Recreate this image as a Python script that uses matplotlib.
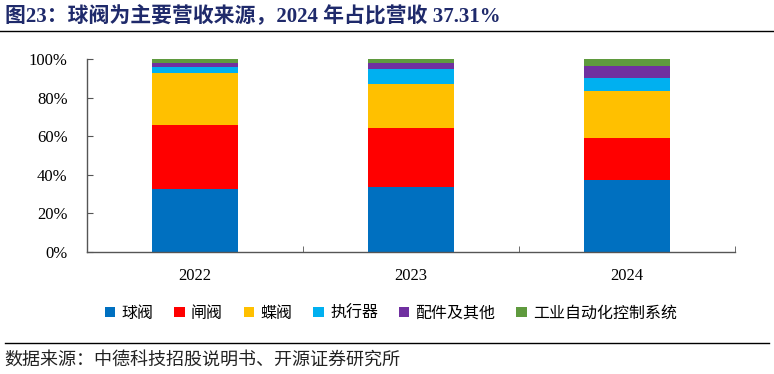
import matplotlib
matplotlib.use("Agg")
import matplotlib.pyplot as plt
import numpy as np
from matplotlib.ticker import FuncFormatter, FixedLocator

years = ["2022", "2023", "2024"]
series_names = ["球阀", "闸阀", "蝶阀", "执行器", "配件及其他", "工业自动化控制系统"]
ball_valve = [32.4, 33.6, 37.31]
gate_valve = [33.2, 30.7, 21.9]
butterfly_valve = [27.0, 22.6, 24.3]
actuator = [3.1, 7.9, 6.8]
parts_other = [2.4, 3.3, 6.2]
automation = [1.9, 1.9, 3.49]
colors = ["#0070C0", "#FF0000", "#FFC000", "#00B0F0", "#7030A0", "#5F9A3E"]

CJK = ["Noto Sans CJK SC", "DejaVu Sans"]
SERIF_CJK = ["Liberation Serif", "Noto Sans CJK SC"]
plt.rcParams["font.family"] = SERIF_CJK

fig = plt.figure(figsize=(7.74, 3.74), dpi=100)
ax = fig.add_axes([0.1124, 0.327, 0.8372, 0.515])

x = np.arange(len(years))
bottom = np.zeros(len(years))
all_series = [ball_valve, gate_valve, butterfly_valve, actuator, parts_other, automation]
for name, vals, c in zip(series_names, all_series, colors):
    vals = np.array(vals)
    ax.bar(x, vals, 0.4, bottom=bottom, color=c, label=name, linewidth=0)
    bottom += vals

ax.set_xlim(-0.5, 2.5)
ax.set_ylim(0, 100)
ax.set_yticks([0, 20, 40, 60, 80, 100])
ax.yaxis.set_major_formatter(FuncFormatter(lambda v, p: f"{int(v)}%"))
ax.set_xticks(x)
ax.set_xticklabels(years)
ax.xaxis.set_minor_locator(FixedLocator([-0.5, 0.5, 1.5, 2.5]))
ax.tick_params(axis="x", which="major", length=0, labelsize=12, pad=12)
ax.tick_params(axis="x", which="minor", direction="in", length=4, color="#555555")
ax.tick_params(axis="y", direction="in", length=4, labelsize=12, color="#555555", pad=14)
for s in ["top", "right"]:
    ax.spines[s].set_visible(False)
for s in ["left", "bottom"]:
    ax.spines[s].set_color("#555555")
    ax.spines[s].set_linewidth(1.0)

leg = fig.legend(loc="center", bbox_to_anchor=(0.505, 0.163), ncol=6, frameon=False,
                 prop={"family": CJK, "size": 11.5}, handlelength=0.65, handleheight=0.65,
                 columnspacing=1.3, handletextpad=0.4)

fig.text(0.006, 0.955, "图23：球阀为主要营收来源，2024 年占比营收 37.31%", fontsize=15,
         fontweight="bold", color="#1F2A6B", family=SERIF_CJK, va="center", ha="left")
fig.add_artist(plt.Line2D([0.0, 1.0], [0.918, 0.918], color="black", linewidth=1.0,
                          transform=fig.transFigure))
fig.add_artist(plt.Line2D([0.006, 0.994], [0.083, 0.083], color="black", linewidth=1.0,
                          transform=fig.transFigure))
fig.text(0.006, 0.038, "数据来源：中德科技招股说明书、开源证券研究所", fontsize=13,
         color="#222222", family=CJK, va="center", ha="left")

fig.savefig("out.png", dpi=100)
